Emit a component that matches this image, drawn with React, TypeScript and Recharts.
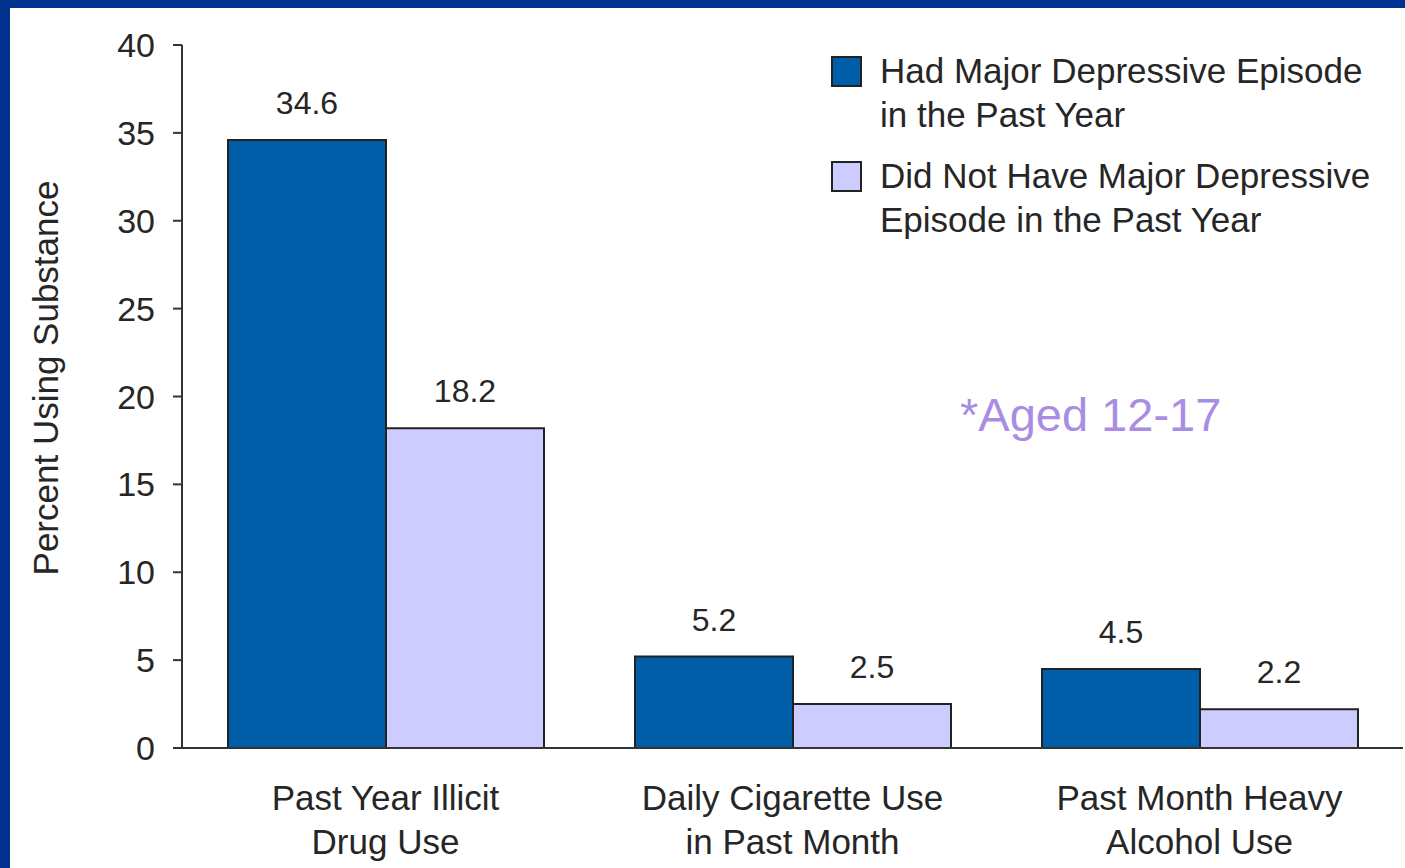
import React from 'react';
import { BarChart, Bar, XAxis, YAxis, LabelList } from 'recharts';

const categories = ['Past Year Illicit\nDrug Use', 'Daily Cigarette Use\nin Past Month', 'Past Month Heavy\nAlcohol Use'];
const hadMDE = [34.6, 5.2, 4.5];
const noMDE = [18.2, 2.5, 2.2];
const yTicks = [0, 5, 10, 15, 20, 25, 30, 35, 40];

const seriesNames = {
  had: 'Had Major Depressive Episode\nin the Past Year',
  not: 'Did Not Have Major Depressive\nEpisode in the Past Year',
};

const data = categories.map((name, i) => ({ name, had: hadMDE[i], not: noMDE[i] }));

const FONT = '"Liberation Sans", Arial, sans-serif';
const TEXT = '#262626';
const DARK = '#005EA8';
const LIGHT = '#CCCCFF';
const NAVY = '#00318F';

const CategoryTick = ({ x, y, payload }: any) => {
  const lines = String(payload.value).split('\n');
  return (
    <text x={x} y={y + 62} textAnchor="middle" fill={TEXT} fontSize={35} fontFamily={FONT}>
      {lines.map((l, i) => (
        <tspan key={i} x={x} dy={i === 0 ? 0 : 44}>{l}</tspan>
      ))}
    </text>
  );
};

// legend drawn as an overlay so it doesn't push the plot area down
const LegendBox = () => {
  const items = [
    { key: 'had', color: DARK },
    { key: 'not', color: LIGHT },
  ];
  return (
    <div style={{ position: 'absolute', top: 49, left: 831, fontFamily: FONT, fontSize: 35, color: TEXT }}>
      {items.map((it, idx) => (
        <div key={it.key} style={{ display: 'flex', alignItems: 'flex-start', marginTop: idx === 0 ? 0 : 17 }}>
          <div
            style={{
              width: 31,
              height: 31,
              boxSizing: 'border-box',
              border: '2px solid #222',
              background: it.color,
              marginTop: 7,
              marginRight: 18,
              flexShrink: 0,
            }}
          />
          <div style={{ lineHeight: '44px', whiteSpace: 'pre' }}>{(seriesNames as any)[it.key]}</div>
        </div>
      ))}
    </div>
  );
};

export default function App() {
  return (
    <div style={{ position: 'fixed', top: 0, left: 0, width: 1405, height: 868, background: '#fff', overflow: 'hidden' }}>
      <BarChart
        width={1405}
        height={868}
        data={data}
        margin={{ top: 45, right: 2, bottom: 0, left: 0 }}
        barCategoryGap={46}
        barGap={0}
      >
        <XAxis
          dataKey="name"
          height={120}
          tickLine={false}
          tickSize={0}
          tickMargin={0}
          axisLine={{ stroke: '#333', strokeWidth: 2 }}
          tick={<CategoryTick />}
          interval={0}
        />
        <YAxis
          width={182}
          domain={[0, 40]}
          ticks={yTicks}
          interval={0}
          tickSize={9}
          tickMargin={18}
          axisLine={{ stroke: '#333', strokeWidth: 2 }}
          tickLine={{ stroke: '#333', strokeWidth: 2 }}
          tick={{ fill: TEXT, fontSize: 34, fontFamily: FONT }}
          label={{
            content: () => (
              <text
                x={45}
                y={378}
                transform="rotate(-90 45 378)"
                textAnchor="middle"
                dominantBaseline="central"
                fill={TEXT}
                fontSize={35}
                fontFamily={FONT}
              >
                Percent Using Substance
              </text>
            ),
          }}
        />
        <Bar dataKey="had" name={seriesNames.had} fill={DARK} stroke="#222" strokeWidth={2} isAnimationActive={false}>
          <LabelList dataKey="had" position="top" offset={26} fill={TEXT} fontSize={32} fontFamily={FONT} formatter={(v: any) => Number(v).toFixed(1)} />
        </Bar>
        <Bar dataKey="not" name={seriesNames.not} fill={LIGHT} stroke="#222" strokeWidth={2} isAnimationActive={false}>
          <LabelList dataKey="not" position="top" offset={26} fill={TEXT} fontSize={32} fontFamily={FONT} formatter={(v: any) => Number(v).toFixed(1)} />
        </Bar>
      </BarChart>
      <LegendBox />
      <div
        style={{
          position: 'absolute',
          left: 960,
          top: 388,
          fontFamily: FONT,
          fontSize: 47,
          lineHeight: '54px',
          color: '#A98CE3',
          whiteSpace: 'nowrap',
        }}
      >
        *Aged 12-17
      </div>
      <div style={{ position: 'absolute', left: 0, top: 0, width: 1405, height: 8, background: NAVY }} />
      <div style={{ position: 'absolute', left: 0, top: 0, width: 10, height: 868, background: NAVY }} />
    </div>
  );
}
